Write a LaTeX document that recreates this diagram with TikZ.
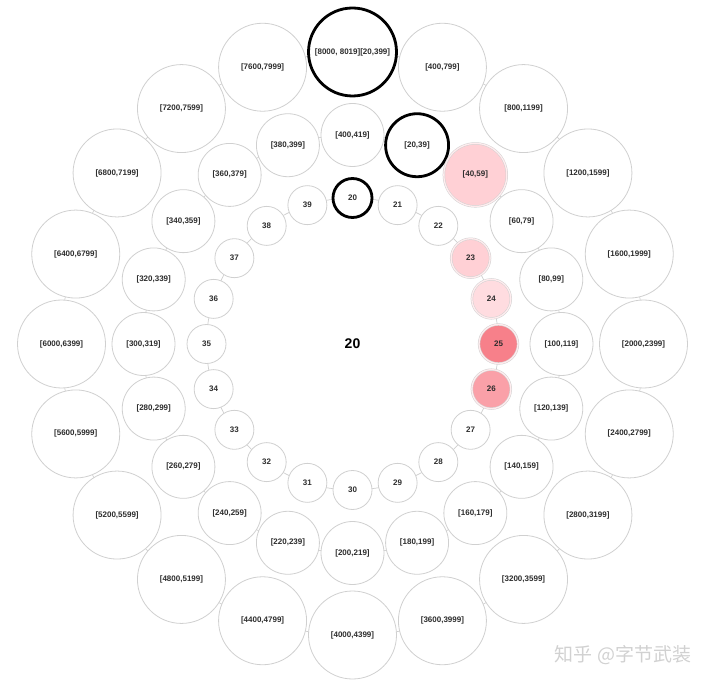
\documentclass[tikz,border=0pt]{standalone}
\usepackage{fontspec}
\setmainfont{Liberation Sans}
\newfontfamily\cjk{Noto Sans CJK SC}
\definecolor{ringgray}{RGB}{208,208,208}
\definecolor{txt}{RGB}{45,45,45}
\definecolor{pkA}{RGB}{255,208,213}
\definecolor{pkB}{RGB}{255,220,224}
\definecolor{pkC}{RGB}{247,128,138}
\definecolor{pkD}{RGB}{250,160,168}
\definecolor{pkrim}{RGB}{255,236,238}
\begin{document}
\begin{tikzpicture}[x=1pt,y=-1pt,
  ball/.style={circle, inner sep=0pt, draw=ringgray, line width=0.8pt, fill=white,
    text=txt, font=\fontsize{8}{9}\selectfont\bfseries},
  inb/.style={ball, minimum size=39pt},
  midb/.style={ball, minimum size=63pt},
  outb/.style={ball, minimum size=88pt},
  hl/.style={draw=black, line width=2.8pt},
  pinkb/.style={fill=#1, draw=black!18, line width=0.5pt, double=pkrim, double distance=1.3pt},
  i0/.style={hl},
  i3/.style={pinkb=pkA},
  i4/.style={pinkb=pkB},
  i5/.style={pinkb=pkC},
  i6/.style={pinkb=pkD},
  m1/.style={hl},
  m2/.style={pinkb=pkA},
  o0/.style={hl},
  ringline/.style={draw=ringgray, line width=0.7pt}
]
\useasboundingbox (0,0) rectangle (720,684);
\coordinate (c) at (352.5,344);
\draw[ringline] (c) circle[radius=146pt];
\draw[ringline] (c) circle[radius=209pt];
\draw[ringline] (c) circle[radius=291pt];
% inner ring
\foreach \k in {0,...,19}{
  \pgfmathtruncatemacro{\lab}{\k+20}
  \node[inb, i\k/.try] (i\k) at ([shift={(90-18*\k:146pt)}]c) {\lab};
}
% middle ring
\foreach \k in {0,...,19}{
  \pgfmathtruncatemacro{\lo}{ifthenelse(\k==0,400,20*\k)}
  \pgfmathtruncatemacro{\hi}{\lo+19}
  \node[midb, m\k/.try] (m\k) at ([shift={(90-18*\k:209pt)}]c) {[\lo,\hi]};
}
% outer ring
\foreach \k in {1,...,19}{
  \pgfmathtruncatemacro{\lo}{400*\k}
  \pgfmathtruncatemacro{\hi}{\lo+399}
  \node[outb, o\k/.try] (o\k) at ([shift={(90-18*\k:291pt)}]c) {[\lo,\hi]};
}
\node[outb, o0] (o0) at ([shift={(90:292pt)}]c) {[8000, 8019][20,399]};
% center
\node[font=\fontsize{14}{15}\selectfont\bfseries, text=black] (ctr) at (c) {20};
% watermark
\node[text=black!18, font=\cjk\fontsize{19}{21}\selectfont] (wm) at (623,655) {知乎 @字节武装};
\end{tikzpicture}
\end{document}
